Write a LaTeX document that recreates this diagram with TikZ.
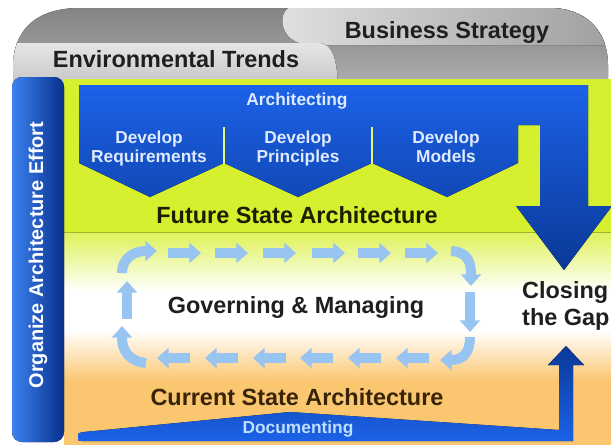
\documentclass[tikz,border=0pt]{standalone}
\usepackage{fontspec}
\setmainfont{Liberation Sans}
\usetikzlibrary{arrows.meta}
\definecolor{lime}{RGB}{214,240,48}
\definecolor{limelight}{RGB}{224,243,100}
\definecolor{orng}{RGB}{250,198,112}
\definecolor{bluetop}{RGB}{28,98,232}
\definecolor{bluebot}{RGB}{10,56,150}
\definecolor{barL}{RGB}{60,130,240}
\definecolor{barM}{RGB}{16,80,205}
\definecolor{barR}{RGB}{8,48,140}
\definecolor{cyc}{RGB}{152,196,242}
\definecolor{txtlight}{RGB}{222,234,255}
\definecolor{doctext}{RGB}{190,224,255}
\definecolor{futtext}{RGB}{28,30,0}
\definecolor{curtext}{RGB}{58,36,6}
\pgfdeclareverticalshading{bgfade}{100bp}{color(0bp)=(orng); color(25bp)=(orng); color(40bp)=(orng); color(52bp)=(white); color(61bp)=(white); color(74bp)=(limelight); color(100bp)=(limelight)}
\tikzset{
  bigtxt/.style={font=\bfseries\fontsize{20}{24}\selectfont, text=black!88, inner sep=0pt},
  midtxt/.style={font=\bfseries\fontsize{14.8}{16.2}\selectfont, text=txtlight, inner sep=0pt},
  cycarrow/.style={draw=cyc, line width=8.5pt, -{Triangle[length=10pt,width=17pt]}}
}
\begin{document}
\begin{tikzpicture}[x=0.03cm,y=-0.03cm]
\useasboundingbox (0,0) rectangle (611,445);
\fill[white] (0,0) rectangle (611,445);
% gray header
\begin{scope}
\clip (13,90) -- (13,68) .. controls (13,28) and (38,8) .. (80,8) -- (550,8) .. controls (585,8) and (608,30) .. (608,65) -- (608,90) -- cycle;
\fill[top color=black!50, bottom color=black!30] (0,0) rectangle (620,95);
\fill[left color=black!12, right color=black!38] (295,6) .. controls (276,6) and (276,45) .. (312,45) -- (620,45) -- (620,0) -- (295,0) -- cycle;
\fill[top color=black!10, bottom color=black!25] (0,43) -- (318,43) .. controls (333,43) and (338,60) .. (338,95) -- (0,95) -- cycle;
\end{scope}
\node[bigtxt, anchor=base] (bs) at (447,38) {Business Strategy};
\node[bigtxt, anchor=base] (et) at (176,67) {Environmental Trends};
% backgrounds
\fill[lime] (64,79) rectangle (611,232);
\fill[shading=bgfade] (64,232) rectangle (611,445);
\draw[lime!75!black, line width=0.8pt] (64,232) -- (611,232);
% left bar
\fill[rounded corners=0.3cm, left color=barL, middle color=barM, right color=barR] (12,77) rectangle (64,442);
\node[rotate=90, font=\bfseries\fontsize{17}{20}\selectfont, text=white] (org) at (38,255) {Organize Architecture Effort};
% architecting band
\fill[top color=bluetop, bottom color=bluebot] (79,85) -- (588,85) -- (588,206) -- (612,206) -- (564,270) -- (516,206) -- (540,206) -- (540,125) -- (518,125) -- (518,163) -- (447,197) -- (372,163) -- (298,197) -- (224,163) -- (150,197) -- (79,163) -- cycle;
\draw[lime!60!white, line width=1.2pt] (224,127) -- (224,164) (372,127) -- (372,164);
\node[midtxt, anchor=base] (arch) at (297,105) {Architecting};
\node[midtxt, anchor=base] (d1) at (149,143) {Develop};
\node[midtxt, anchor=base] (r1) at (149,162) {Requirements};
\node[midtxt, anchor=base] (d2) at (298,143) {Develop};
\node[midtxt, anchor=base] (r2) at (298,162) {Principles};
\node[midtxt, anchor=base] (d3) at (446,143) {Develop};
\node[midtxt, anchor=base] (r3) at (446,162) {Models};
\node[bigtxt, text=futtext, anchor=base] (fsa) at (297,223) {Future State Architecture};
% cycle arrows
\foreach \x in {168,215,263,312,358,405} \draw[cycarrow] (\x,253) -- (\x+33,253);
\foreach \x in {157,205,253,300,348,396} \draw[cycarrow] (\x+33,358) -- (\x,358);
\draw[cycarrow] (122,273) .. controls (122,258) and (134,251) .. (157,251);
\draw[cycarrow] (127,319) -- (127,281);
\draw[cycarrow] (146,363) .. controls (128,361) and (122,350) .. (122,326);
\draw[cycarrow] (451,251) .. controls (468,252) and (471,262) .. (471,286);
\draw[cycarrow] (470,292) -- (470,332);
\draw[cycarrow] (470,337) .. controls (470,354) and (462,360) .. (440,360);
\node[bigtxt, anchor=base] (gm) at (296,313) {Governing \& Managing};
% closing the gap
\node[bigtxt, anchor=base west] (cl) at (522,298) {Closing};
\node[bigtxt, anchor=base west] (tg) at (522,325) {the Gap};
% current state
\node[bigtxt, text=curtext, anchor=base] (csa) at (297,405) {Current State Architecture};
\fill[top color=bluebot, bottom color=bluetop] (78,437) .. controls (78,433) .. (84,432) -- (290,412) -- (559,430) -- (559,365) -- (548,365) -- (566,346) -- (584,365) -- (573,365) -- (573,441) -- (82,441) .. controls (78,441) .. (78,437) -- cycle;
\node[midtxt, text=doctext, anchor=base] (doc) at (298,433) {Documenting};
\end{tikzpicture}
\end{document}
